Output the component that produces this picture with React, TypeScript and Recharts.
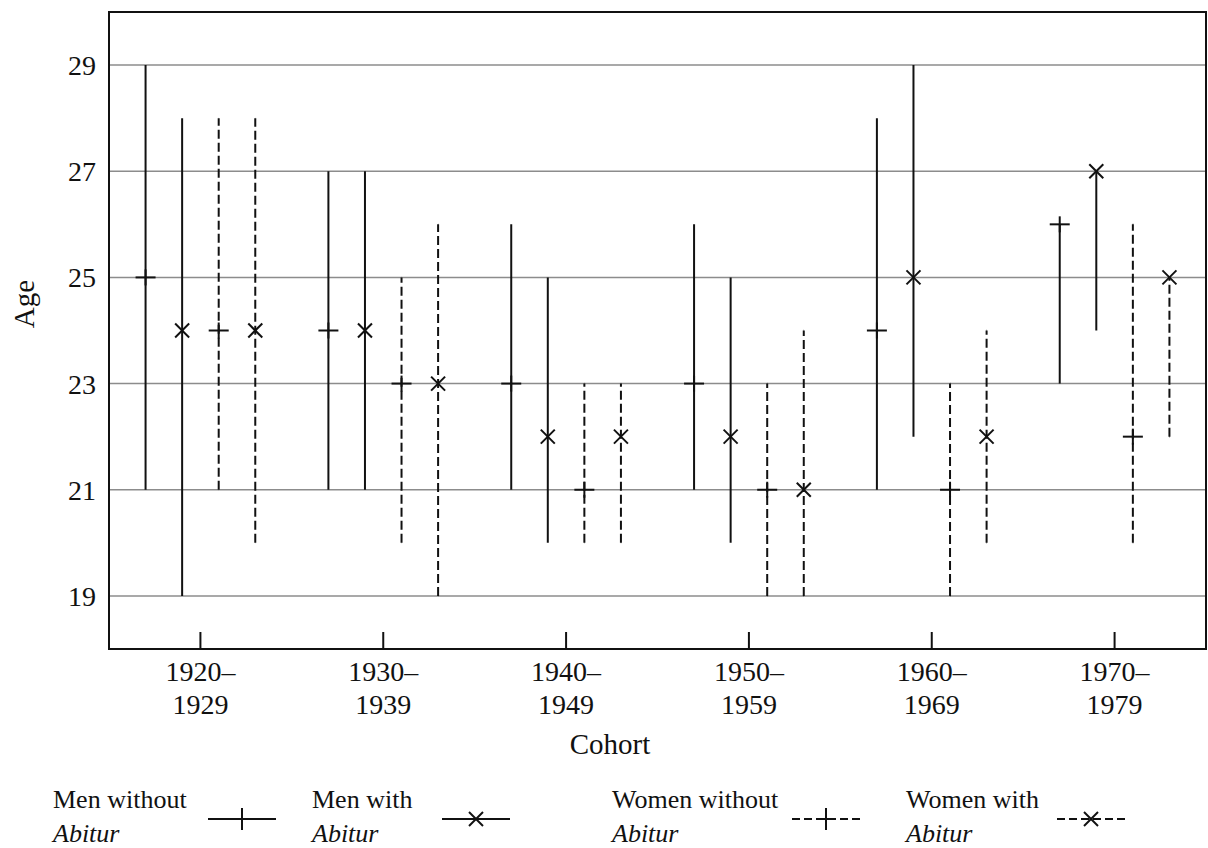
import React from 'react';
import { ScatterChart, Scatter, XAxis, YAxis, CartesianGrid, ErrorBar, Legend, ReferenceArea } from 'recharts';

const cohortTop = ['1920–', '1930–', '1940–', '1950–', '1960–', '1970–'];
const cohortBottom = ['1929', '1939', '1949', '1959', '1969', '1979'];

// min / median / max age per cohort
const menWithoutMin = [21, 21, 21, 21, 21, 23];
const menWithoutMedian = [25, 24, 23, 23, 24, 26];
const menWithoutMax = [29, 27, 26, 26, 28, 26];

const menWithMin = [19, 21, 20, 20, 22, 24];
const menWithMedian = [24, 24, 22, 22, 25, 27];
const menWithMax = [28, 27, 25, 25, 29, 27];

const womenWithoutMin = [21, 20, 20, 19, 19, 20];
const womenWithoutMedian = [24, 23, 21, 21, 21, 22];
const womenWithoutMax = [28, 25, 23, 23, 23, 26];

const womenWithMin = [20, 19, 20, 19, 20, 22];
const womenWithMedian = [24, 23, 22, 21, 22, 25];
const womenWithMax = [28, 26, 23, 24, 24, 25];

const yTicks = [19, 21, 23, 25, 27, 29];
const xTicks = [0, 1, 2, 3, 4, 5];

const FONT = '"Liberation Serif", "Times New Roman", serif';
const INK = '#111';
const DASH = '9 4';

const series = [
  { key: 'mw', label: 'Men without', mins: menWithoutMin, meds: menWithoutMedian, maxs: menWithoutMax, marker: 'plus', dashed: false, offset: -0.3 },
  { key: 'mwa', label: 'Men with', mins: menWithMin, meds: menWithMedian, maxs: menWithMax, marker: 'cross', dashed: false, offset: -0.1 },
  { key: 'ww', label: 'Women without', mins: womenWithoutMin, meds: womenWithoutMedian, maxs: womenWithoutMax, marker: 'plus', dashed: true, offset: 0.1 },
  { key: 'wwa', label: 'Women with', mins: womenWithMin, meds: womenWithMedian, maxs: womenWithMax, marker: 'cross', dashed: true, offset: 0.3 },
];

const toPoints = (s: typeof series[number]) =>
  s.meds.map((m, i) => ({ x: i + s.offset, y: m, err: [m - s.mins[i], s.maxs[i] - m] }));

const Marker = ({ cx, cy, kind }: any) => {
  if (cx == null || cy == null) return null;
  if (kind === 'plus') {
    return (
      <g stroke={INK} strokeWidth={2}>
        <line x1={cx - 10} y1={cy} x2={cx + 10} y2={cy} />
        <line x1={cx} y1={cy - 8} x2={cx} y2={cy + 8} />
      </g>
    );
  }
  return (
    <g stroke={INK} strokeWidth={2}>
      <line x1={cx - 7} y1={cy - 7} x2={cx + 7} y2={cy + 7} />
      <line x1={cx - 7} y1={cy + 7} x2={cx + 7} y2={cy - 7} />
    </g>
  );
};

const CohortTick = ({ x, y, payload }: any) => (
  <text x={x} y={y} textAnchor="middle" fontSize={28} fontFamily={FONT} fill={INK}>
    <tspan x={x} dy={32}>{cohortTop[payload.value]}</tspan>
    <tspan x={x} dy={33}>{cohortBottom[payload.value]}</tspan>
  </text>
);

const legendTextX = [53, 312, 612, 906];
const legendSampleX = [208, 442, 792, 1057];

const LegendBox = () => (
  <div style={{ height: 88 }}>
    <svg width={1206} height={88} style={{ display: 'block' }}>
      {series.map((s, i) => {
        const x0 = legendSampleX[i];
        const cx = x0 + 34;
        return (
          <g key={s.key}>
            <text x={legendTextX[i]} y={48} fontSize={26} fontFamily={FONT} fill={INK}>{s.label}</text>
            <text x={legendTextX[i]} y={82} fontSize={26} fontFamily={FONT} fontStyle="italic" fill={INK}>Abitur</text>
            <line x1={x0} y1={59} x2={x0 + 68} y2={59} stroke={INK} strokeWidth={2}
              strokeDasharray={s.dashed ? '8 4' : undefined} />
            {s.marker === 'plus' ? (
              <g stroke={INK} strokeWidth={2}>
                <line x1={cx - 10} y1={59} x2={cx + 10} y2={59} />
                <line x1={cx} y1={48} x2={cx} y2={70} />
              </g>
            ) : (
              <Marker cx={cx} cy={59} kind="cross" />
            )}
          </g>
        );
      })}
    </svg>
  </div>
);

export default function App() {
  return (
    <div style={{ position: 'absolute', left: 0, top: 0, fontFamily: FONT, background: '#fff' }}>
      <ScatterChart width={1208} height={848} margin={{ top: 12, right: 2, left: 0, bottom: 0 }}>
        <CartesianGrid vertical={false} stroke="#8c8c8c" strokeWidth={1.5} />
        <XAxis
          type="number"
          dataKey="x"
          domain={[-0.5, 5.5]}
          ticks={xTicks}
          interval={0}
          height={111}
          axisLine={false}
          tickSize={-17}
          tickMargin={17}
          tickLine={{ stroke: INK, strokeWidth: 2 }}
          tick={<CohortTick />}
          label={{
            content: (p: any) => (
              <text x={p.viewBox.x + 501} y={p.viewBox.y + 105} textAnchor="middle" fontSize={29} fontFamily={FONT} fill={INK}>
                Cohort
              </text>
            ),
          }}
        />
        <YAxis
          type="number"
          dataKey="y"
          domain={[18, 30]}
          ticks={yTicks}
          interval={0}
          width={109}
          axisLine={false}
          tickLine={false}
          tickSize={0}
          tickMargin={13}
          tick={{ fontSize: 28, fill: INK, fontFamily: FONT }}
          label={{
            content: () => (
              <text x={24} y={304} transform="rotate(-90 24 304)" textAnchor="middle" dy="0.35em" fontSize={29} fontFamily={FONT} fill={INK}>
                Age
              </text>
            ),
          }}
        />
        <ReferenceArea x1={-0.5} x2={5.5} y1={18} y2={30} fill="none" stroke={INK} strokeWidth={2} />
        {series.map((s) => (
          <Scatter
            key={s.key}
            name={s.label}
            data={toPoints(s)}
            isAnimationActive={false}
            shape={(props: any) => <Marker cx={props.cx} cy={props.cy} kind={s.marker} />}
          >
            <ErrorBar
              dataKey="err"
              direction="y"
              width={0}
              stroke={INK}
              strokeWidth={2}
              strokeDasharray={s.dashed ? DASH : undefined}
              isAnimationActive={false}
            />
          </Scatter>
        ))}
        <Legend verticalAlign="bottom" content={() => <LegendBox />} />
      </ScatterChart>
    </div>
  );
}
